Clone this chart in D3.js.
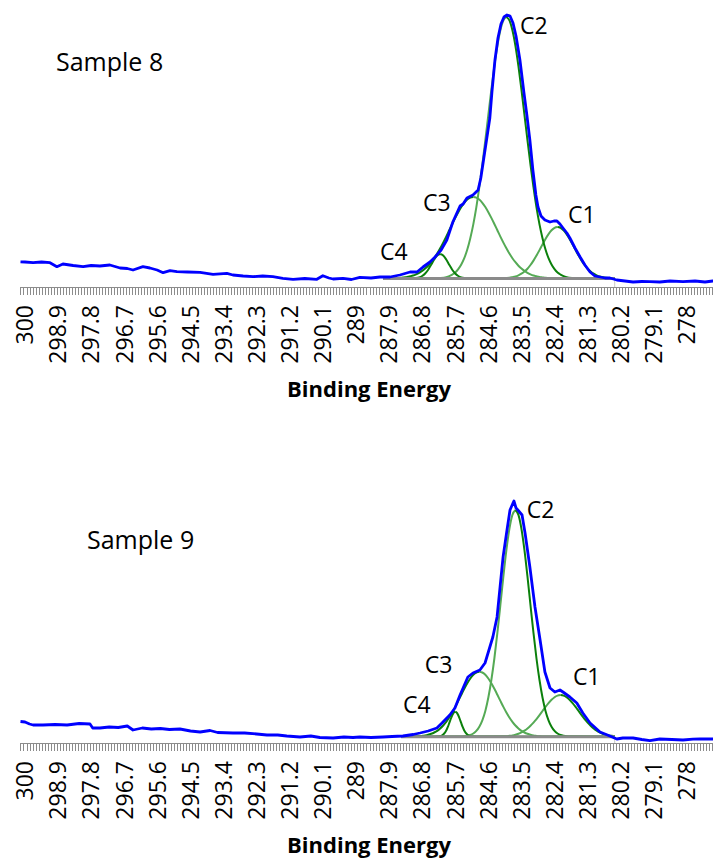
<!DOCTYPE html>
<html>
<head>
<meta charset="utf-8">
<script src="https://cdn.jsdelivr.net/npm/d3@7"></script>
<style>
  body { margin: 0; background: #fff; }
  svg { display: block; }
  text { font-family: "Open Sans", "Noto Sans", sans-serif; fill: #000; }
</style>
</head>
<body>
<svg id="chart" width="713" height="861"></svg>
<script>
// category labels on the binding-energy axis (every 11th channel)
const tickLabels = [300, 298.9, 297.8, 296.7, 295.6, 294.5, 293.4, 292.3, 291.2, 290.1, 289,
                    287.9, 286.8, 285.7, 284.6, 283.5, 282.4, 281.3, 280.2, 279.1, 278];
const peakNames = ['C1', 'C2', 'C3', 'C4'];

// ---- Sample 8: measured spectrum [eV, counts]
const spectrum8 = [
  [300.15, 252], [300.00, 250], [299.73, 243], [299.45, 250], [299.17, 243], [298.94, 203], [298.74, 230],
  [298.40, 215], [298.07, 203], [297.80, 215], [297.51, 210], [297.18, 220], [296.84, 190],
  [296.60, 185], [296.41, 170], [296.08, 203], [295.85, 190], [295.61, 170], [295.41, 143],
  [295.18, 163], [294.95, 153], [294.60, 150], [294.18, 147], [293.75, 127], [293.29, 137],
  [293.09, 120], [292.75, 110], [292.42, 103], [292.10, 110], [291.76, 103], [291.43, 87],
  [291.09, 77], [290.70, 85], [290.30, 77], [290.10, 113], [289.90, 90], [289.76, 80],
  [289.43, 87], [289.15, 75], [288.87, 97], [288.50, 90], [288.20, 100], [287.87, 100],
  [287.54, 120], [287.20, 150], [286.97, 150], [286.77, 200], [286.54, 250], [286.37, 300],
  [286.17, 370], [285.98, 470], [285.78, 650], [285.54, 810], [285.44, 830], [285.31, 890],
  [285.11, 920], [284.94, 970], [284.85, 1090], [284.75, 1290], [284.65, 1490], [284.55, 1690],
  [284.48, 1950], [284.38, 2270], [284.28, 2490], [284.18, 2630], [284.08, 2700], [283.98, 2720],
  [283.88, 2710], [283.78, 2640], [283.68, 2510], [283.55, 2270], [283.42, 1950], [283.32, 1720],
  [283.22, 1470], [283.12, 1170], [283.02, 920], [282.95, 800], [282.85, 710], [282.72, 670],
  [282.55, 650], [282.42, 660], [282.32, 660], [282.22, 630], [282.12, 590], [281.99, 540],
  [281.89, 490], [281.72, 390], [281.55, 300], [281.39, 220], [281.22, 150], [281.06, 110],
  [280.89, 100], [280.72, 90], [280.56, 90], [280.33, 70], [280.06, 60], [279.79, 50],
  [279.50, 55], [279.23, 53], [278.90, 50], [278.56, 60], [278.13, 53], [277.73, 60],
  [277.40, 50], [277.14, 60], [277.05, 58]
];
const baseline8 = [[288.1, 85], [280.4, 85]];
const c1_8 = [
  [288.1, 85], [284.2, 86], [284.1, 87], [284.0, 89], [283.9, 92], [283.8, 98], [283.7, 105],
  [283.6, 117], [283.5, 133], [283.4, 155], [283.3, 183], [283.2, 220], [283.1, 264], [283.0, 314],
  [282.9, 369], [282.8, 426], [282.7, 481], [282.6, 529], [282.5, 567], [282.4, 592], [282.3, 600],
  [282.2, 592], [282.1, 567], [282.0, 529], [281.9, 481], [281.8, 426], [281.7, 369], [281.6, 314],
  [281.5, 264], [281.4, 220], [281.3, 183], [281.2, 155], [281.1, 133], [281.0, 117], [280.9, 105],
  [280.8, 98], [280.7, 92], [280.6, 89], [280.5, 87], [280.4, 86]
];
const c2_8 = [
  [288.1, 85], [286.4, 87], [286.2, 90], [286.0, 99], [285.9, 109], [285.8, 124], [285.7, 145],
  [285.6, 179], [285.5, 226], [285.4, 289], [285.3, 375], [285.2, 488], [285.1, 626], [285.0, 796],
  [284.9, 998], [284.8, 1223], [284.7, 1468], [284.6, 1722], [284.5, 1973], [284.4, 2208],
  [284.3, 2412], [284.2, 2567], [284.1, 2666], [284.0, 2700], [283.9, 2666], [283.8, 2567],
  [283.7, 2412], [283.6, 2208], [283.5, 1973], [283.4, 1722], [283.3, 1468], [283.2, 1223],
  [283.1, 998], [283.0, 796], [282.9, 626], [282.8, 488], [282.7, 375], [282.6, 289], [282.5, 226],
  [282.4, 179], [282.3, 145], [282.2, 124], [282.1, 109], [282.0, 99], [281.8, 90], [281.6, 87],
  [280.4, 85]
];
const c3_8 = [
  [288.1, 85], [287.9, 86], [287.7, 88], [287.5, 92], [287.4, 96], [287.3, 100], [287.2, 107],
  [287.1, 115], [287.0, 127], [286.9, 142], [286.8, 161], [286.7, 184], [286.6, 213], [286.5, 248],
  [286.4, 288], [286.3, 334], [286.2, 387], [286.1, 444], [286.0, 504], [285.9, 567], [285.8, 630],
  [285.7, 691], [285.6, 748], [285.5, 800], [285.4, 842], [285.3, 874], [285.2, 893], [285.1, 900],
  [285.0, 893], [284.9, 874], [284.8, 842], [284.7, 800], [284.6, 748], [284.5, 691], [284.4, 630],
  [284.3, 567], [284.2, 504], [284.1, 444], [284.0, 387], [283.9, 334], [283.8, 288], [283.7, 248],
  [283.6, 213], [283.5, 184], [283.4, 161], [283.3, 142], [283.2, 127], [283.1, 115], [283.0, 107],
  [282.9, 100], [282.8, 96], [282.7, 92], [282.5, 88], [282.3, 86], [280.4, 85]
];
const c4_8 = [
  [288.1, 85], [287.2, 85], [287.1, 86], [287.0, 89], [286.9, 96], [286.8, 110], [286.7, 135],
  [286.6, 173], [286.5, 223], [286.4, 275], [286.3, 315], [286.2, 330], [286.1, 315], [286.0, 275],
  [285.9, 223], [285.8, 173], [285.7, 135], [285.6, 110], [285.5, 96], [285.4, 89], [285.3, 86],
  [285.2, 85], [280.4, 85]
];

// ---- Sample 9
const spectrum9 = [
  [300.15, 215], [300.00, 210], [299.85, 190], [299.73, 180], [299.40, 180], [299.00, 185], [298.60, 180],
  [298.20, 195], [297.84, 190], [297.75, 150], [297.51, 150], [297.20, 160], [296.90, 155],
  [296.60, 170], [296.41, 130], [296.10, 150], [295.80, 140], [295.50, 145], [295.20, 135],
  [294.85, 140], [294.50, 120], [294.18, 110], [293.85, 125], [293.60, 105], [293.09, 100],
  [292.70, 100], [292.30, 90], [291.96, 80], [291.60, 80], [291.30, 70], [290.86, 60],
  [290.50, 70], [290.20, 55], [289.76, 50], [289.40, 60], [289.10, 55], [288.87, 60],
  [288.50, 55], [288.10, 60], [287.80, 65], [287.44, 70], [287.10, 85], [286.87, 100],
  [286.60, 120], [286.31, 150], [286.14, 200], [285.88, 280], [285.71, 350], [285.54, 480],
  [285.28, 660], [285.11, 700], [284.88, 730], [284.71, 800], [284.61, 900], [284.45, 1060],
  [284.31, 1260], [284.21, 1560], [284.11, 1860], [283.98, 2130], [283.88, 2330], [283.78, 2400],
  [283.75, 2420], [283.68, 2350], [283.62, 2330], [283.48, 2280], [283.38, 2100], [283.22, 1760],
  [283.05, 1360], [282.88, 1030], [282.72, 710], [282.55, 550], [282.39, 510], [282.22, 530],
  [282.12, 510], [281.89, 460], [281.66, 400], [281.46, 300], [281.22, 200], [280.89, 110],
  [280.56, 70], [280.33, 40], [280.13, 50], [279.79, 50], [279.50, 35], [279.23, 23],
  [278.90, 40], [278.50, 35], [278.13, 30], [277.80, 38], [277.57, 40], [277.14, 40], [277.05, 42]
];
const baseline9 = [[287.5, 63], [280.4, 63]];
const c1_9 = [
  [287.5, 63], [284.0, 68], [283.9, 72], [283.8, 76], [283.7, 83], [283.6, 93], [283.5, 106],
  [283.4, 123], [283.3, 145], [283.2, 172], [283.1, 204], [283.0, 239], [282.9, 279], [282.8, 320],
  [282.7, 361], [282.6, 399], [282.5, 432], [282.4, 458], [282.3, 474], [282.2, 480], [282.1, 474],
  [282.0, 458], [281.9, 432], [281.8, 399], [281.7, 361], [281.6, 320], [281.5, 279], [281.4, 239],
  [281.3, 204], [281.2, 172], [281.1, 145], [281.0, 123], [280.9, 106], [280.8, 93], [280.7, 83],
  [280.6, 76], [280.5, 72], [280.4, 68]
];
const c2_9 = [
  [287.5, 63], [285.5, 65], [285.4, 67], [285.3, 72], [285.2, 80], [285.1, 95], [285.0, 121],
  [284.9, 163], [284.8, 227], [284.7, 321], [284.6, 455], [284.5, 630], [284.4, 845], [284.3, 1101],
  [284.2, 1380], [284.1, 1666], [284.0, 1929], [283.9, 2142], [283.8, 2281], [283.7, 2330],
  [283.6, 2281], [283.5, 2142], [283.4, 1929], [283.3, 1666], [283.2, 1380], [283.1, 1101],
  [283.0, 845], [282.9, 630], [282.8, 455], [282.7, 321], [282.6, 227], [282.5, 163], [282.4, 121],
  [282.3, 95], [282.2, 80], [282.1, 72], [282.0, 67], [281.9, 65], [280.4, 63]
];
const c3_9 = [
  [287.5, 63], [287.3, 64], [287.1, 65], [286.9, 68], [286.8, 71], [286.7, 75], [286.6, 82],
  [286.5, 92], [286.4, 105], [286.3, 122], [286.2, 146], [286.1, 175], [286.0, 211], [285.9, 255],
  [285.8, 305], [285.7, 361], [285.6, 421], [285.5, 482], [285.4, 542], [285.3, 597], [285.2, 645],
  [285.1, 682], [285.0, 705], [284.9, 713], [284.8, 705], [284.7, 682], [284.6, 645], [284.5, 597],
  [284.4, 542], [284.3, 482], [284.2, 421], [284.1, 361], [284.0, 305], [283.9, 255], [283.8, 211],
  [283.7, 175], [283.6, 146], [283.5, 122], [283.4, 105], [283.3, 92], [283.2, 82], [283.1, 75],
  [283.0, 71], [282.9, 68], [282.7, 65], [282.5, 64], [280.4, 63]
];
const c4_9 = [
  [287.5, 63], [286.4, 63], [286.3, 64], [286.2, 68], [286.15, 74], [286.1, 84], [286.05, 101],
  [286.0, 125], [285.95, 158], [285.9, 198], [285.85, 240], [285.8, 277], [285.75, 304], [285.7, 313],
  [285.65, 304], [285.6, 277], [285.55, 240], [285.5, 198], [285.45, 158], [285.4, 125], [285.35, 101],
  [285.3, 84], [285.25, 74], [285.2, 68], [285.1, 64], [285.0, 63], [280.4, 63]
];

// ---- layout
const DARK = '#0b800b', LIGHT = '#55aa55';
const x = d3.scaleLinear().domain([300, 277.1]).range([25, 714]);

const panels = [
  {
    title: 'Sample 8', titleX: 56, titleY: 71,
    axisY: 287, yMax: 2750, topY: 12,
    spectrum: spectrum8, baseline: baseline8,
    comps: [c1_8, c2_8, c3_8, c4_8],
    labelAt: [[281.95, 640], [283.55, 2530], [286.77, 760], [288.20, 270]]
  },
  {
    title: 'Sample 9', titleX: 87, titleY: 549,
    axisY: 743, yMax: 2450, topY: 498,
    spectrum: spectrum9, baseline: baseline9,
    comps: [c1_9, c2_9, c3_9, c4_9],
    labelAt: [[281.79, 580], [283.32, 2250], [286.71, 700], [287.44, 300]]
  }
];
// which half of each component (C1..C4) is drawn in the lighter green
const halfColors = [[LIGHT, DARK], [LIGHT, DARK], [DARK, LIGHT], [DARK, DARK]];

const svg = d3.select('#chart');
svg.append('rect').attr('width', 713).attr('height', 861).attr('fill', '#fff');

panels.forEach(p => {
  const y = d3.scaleLinear().domain([0, p.yMax]).range([p.axisY, p.topY]);
  const g = svg.append('g');
  const line = d3.line().x(d => x(d[0])).y(d => y(d[1]));

  // channel ticks, one per 0.1 eV
  const edges = d3.range(0, 232).map(i => 300.15 - i * 0.1);
  g.append('g').selectAll('line')
    .data(edges)
    .join('line')
    .attr('x1', d => Math.round(x(d)) + 0.5).attr('x2', d => Math.round(x(d)) + 0.5)
    .attr('y1', p.axisY).attr('y2', p.axisY + 8)
    .attr('stroke', '#8c8c8c').attr('stroke-width', 1);
  g.append('line')
    .attr('x1', x(300.15)).attr('x2', 713)
    .attr('y1', p.axisY + 0.5).attr('y2', p.axisY + 0.5)
    .attr('stroke', '#8c8c8c');

  g.append('g').selectAll('text')
    .data(tickLabels)
    .join('text')
    .attr('transform', d => `translate(${x(d)},${p.axisY + 18}) rotate(-90)`)
    .attr('text-anchor', 'end')
    .attr('dy', '0.36em')
    .style('font-size', '23px')
    .text(d => String(d));

  g.append('text')
    .attr('x', 369).attr('y', p.axisY + 110)
    .attr('text-anchor', 'middle')
    .style('font-size', '22px').style('font-weight', 'bold')
    .text('Binding Energy');

  g.append('text')
    .attr('x', p.titleX).attr('y', p.titleY)
    .style('font-size', '25px')
    .text(p.title);

  // fitted components, split at their maximum for the two shades
  p.comps.forEach((c, k) => {
    const top = d3.maxIndex(c, d => d[1]);
    [c.slice(0, top + 1), c.slice(top)].forEach((part, h) => {
      g.append('path')
        .attr('d', d3.line().curve(d3.curveMonotoneX).x(d => x(d[0])).y(d => y(d[1]))(part))
        .attr('fill', 'none')
        .attr('stroke', halfColors[k][h])
        .attr('stroke-width', 2);
    });
  });

  // background
  g.append('path')
    .attr('d', line(p.baseline))
    .attr('fill', 'none').attr('stroke', '#8a8a8a').attr('stroke-width', 3);
  const bEnd = p.baseline[p.baseline.length - 1];
  g.append('line')
    .attr('x1', x(bEnd[0])).attr('x2', x(bEnd[0]))
    .attr('y1', y(bEnd[1])).attr('y2', p.axisY)
    .attr('stroke', '#c8c8c8').attr('stroke-width', 1);

  g.append('path')
    .attr('d', line(p.spectrum))
    .attr('fill', 'none')
    .attr('stroke', '#0000ff')
    .attr('stroke-width', 2.8)
    .attr('stroke-linejoin', 'round');

  g.append('g').selectAll('text')
    .data(peakNames)
    .join('text')
    .attr('x', (d, i) => x(p.labelAt[i][0]))
    .attr('y', (d, i) => y(p.labelAt[i][1]))
    .style('font-size', '23px')
    .text(d => d);
});
</script>
</body>
</html>
